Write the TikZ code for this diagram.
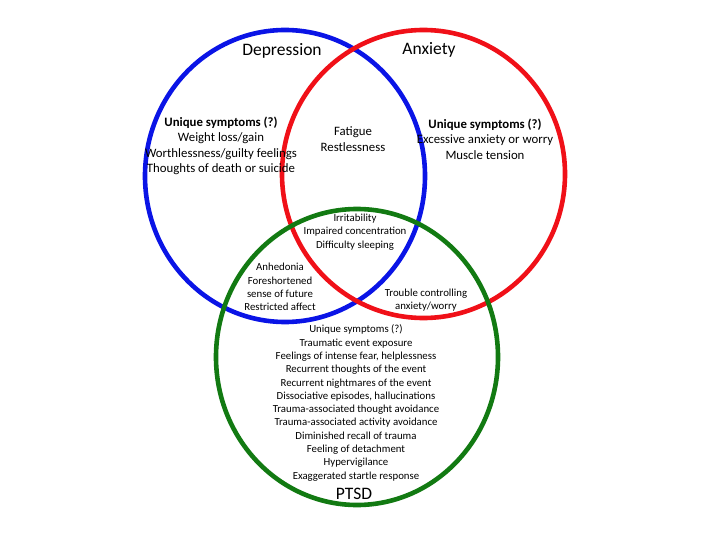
\documentclass[tikz,border=0pt]{standalone}
\usepackage{fontspec}
\setmainfont{Carlito}
\usetikzlibrary{positioning}
\definecolor{deppblue}{HTML}{0A14E6}
\definecolor{anxred}{HTML}{F01018}
\definecolor{ptsdgreen}{HTML}{127A12}

\begin{document}
\begin{tikzpicture}[x=1pt, y=-1pt,
  ring/.style={line width=4.6pt, draw=#1},
  title/.style={font=\fontsize{17.5}{20}\selectfont, inner sep=0pt},
  txt/.style={align=center, inner sep=0pt, font=\fontsize{12.8}{15.5}\selectfont},
  small/.style={align=center, inner sep=0pt, font=\fontsize{10.8}{13.3}\selectfont}
]
  \useasboundingbox (0,0) rectangle (720,540);
  % the three circles
  \draw[ring=deppblue] (285,176) ellipse (140 and 146);
  \draw[ring=anxred] (423.5,174) ellipse (141.5 and 144);
  \draw[ring=ptsdgreen] (357,357) ellipse (141 and 148);

  \node[title] (dep) at (282,51) {Depression};
  \node[title] (anx) at (429,50) {Anxiety};
  \node[title] (ptsd) at (354,494) {PTSD};

  \node[txt] (depuniq) at (221,146) {\textbf{Unique symptoms (?)}\\Weight loss/gain\\Worthlessness/guilty feelings\\Thoughts of death or suicide};
  \node[txt] (depanx) at (353,139) {Fatigue\\Restlessness};
  \node[txt] (anxuniq) at (485,139) {\textbf{Unique symptoms (?)}\\Excessive anxiety or worry\\Muscle tension};
  \node[small] (all) at (355,232) {Irritability\\Impaired concentration\\Difficulty sleeping};
  \node[small] (depptsd) at (280,287) {Anhedonia\\Foreshortened\\sense of future\\Restricted affect};
  \node[small] (anxptsd) at (426,300) {Trouble controlling\\anxiety/worry};
  \node[small] (ptsduniq) at (356,403) {Unique symptoms (?)\\Traumatic event exposure\\Feelings of intense fear, helplessness\\Recurrent thoughts of the event\\Recurrent nightmares of the event\\Dissociative episodes, hallucinations\\Trauma-associated thought avoidance\\Trauma-associated activity avoidance\\Diminished recall of trauma\\Feeling of detachment\\Hypervigilance\\Exaggerated startle response};
\end{tikzpicture}
\end{document}
